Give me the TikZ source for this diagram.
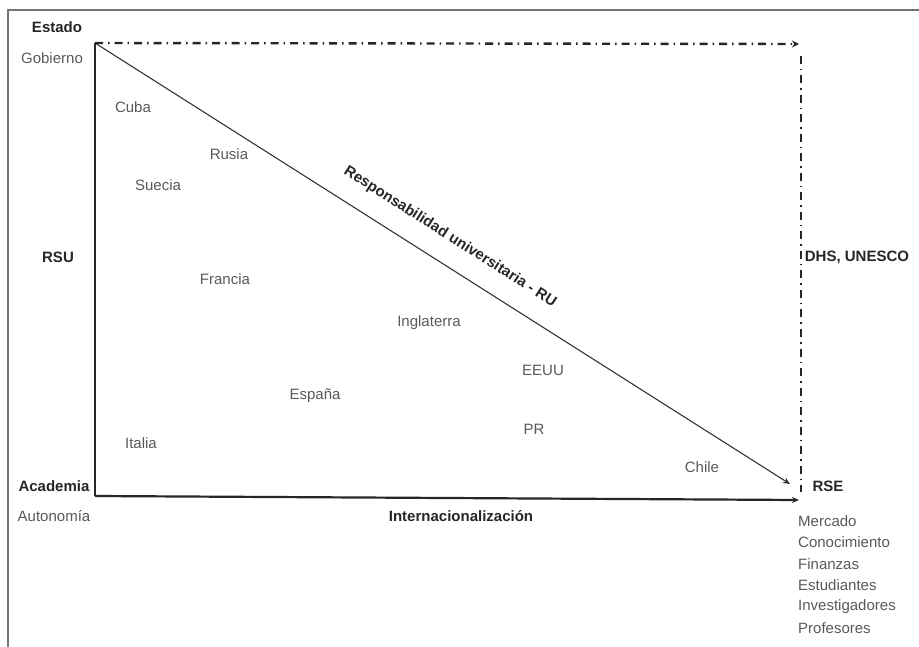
\documentclass[tikz,border=0pt]{standalone}
\usepackage{fontspec}
\setmainfont{Liberation Sans}
\usetikzlibrary{arrows.meta}
\begin{document}
\begin{tikzpicture}[x=1pt,y=-1pt,
  lbl/.style={font=\fontsize{15}{17}\selectfont, text=black!65, inner sep=1pt},
  blbl/.style={font=\fontsize{15}{17}\selectfont\bfseries, text=black!85, inner sep=1pt},
  axis/.style={line width=2.2pt, black!85},
  dd/.style={line width=2.4pt, black!85, dash pattern=on 8pt off 5pt on 1.5pt off 5pt},
  every node/.style={anchor=center}]
\useasboundingbox (0,0) rectangle (919,647);
% frame
\draw[black!55, line width=1.2pt] (8,647) -- (8,10) -- (919,10);
% corner coordinates
\coordinate (tl) at (95,43);
\coordinate (bl) at (95,496);
\coordinate (br) at (799,500);
\coordinate (tr) at (799,44);
\coordinate (trs) at (801,56);
\coordinate (bre) at (801,492);
\coordinate (dend) at (790,484);
% axes
\draw[axis] (bl) -- (tl);
\draw[axis, -{Stealth[length=7pt,width=6pt]}] (bl) -- (br);
\draw[black!80, line width=1.1pt, -{Stealth[length=7pt,width=6pt]}] (tl) -- (dend);
\draw[dd, -{Stealth[length=7pt,width=7pt]}] (tl) -- (tr);
\draw[dd] (trs) -- (bre);
% labels
\node[blbl] (estado) at (57,27) {Estado};
\node[lbl] (gob) at (52,58) {Gobierno};
\node[blbl] (rsu) at (58,257) {RSU};
\node[blbl] (acad) at (54,486) {Academia};
\node[lbl] (auto) at (54,516) {Autonomía};
\node[blbl] (inter) at (461,516) {Internacionalización};
\node[blbl] (rse) at (828,486) {RSE};
\node[blbl] (dhs) at (857,257) {DHS, UNESCO};
\node[lbl, anchor=west] (merc) at (797,521) {Mercado};
\node[lbl, anchor=west] (cono) at (797,542) {Conocimiento};
\node[lbl, anchor=west] (fin) at (797,564) {Finanzas};
\node[lbl, anchor=west] (est) at (797,585) {Estudiantes};
\node[lbl, anchor=west] (inv) at (797,607) {Investigadores};
\node[lbl, anchor=west] (prof) at (797,628) {Profesores};
\node[blbl, rotate=-32.5] (ru) at (450,237) {Responsabilidad universitaria - RU};
% countries
\node[lbl] (cuba) at (133,107) {Cuba};
\node[lbl] (rusia) at (229,154) {Rusia};
\node[lbl] (suecia) at (158,185) {Suecia};
\node[lbl] (francia) at (225,279) {Francia};
\node[lbl] (ingl) at (429,323) {Inglaterra};
\node[lbl] (eeuu) at (543,370) {EEUU};
\node[lbl] (espana) at (315,396) {España};
\node[lbl] (pr) at (534,429) {PR};
\node[lbl] (italia) at (141,443) {Italia};
\node[lbl] (chile) at (702,467) {Chile};
\end{tikzpicture}
\end{document}
